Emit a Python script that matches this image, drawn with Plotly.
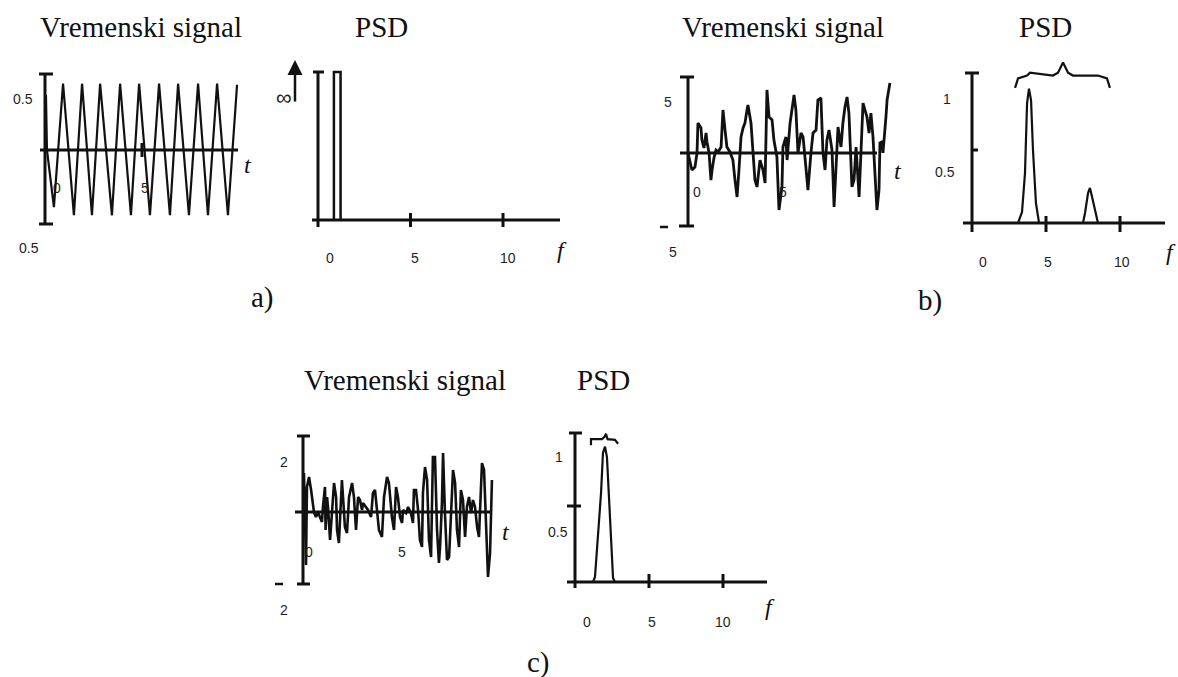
import plotly.graph_objects as go

W, H = 1178, 677

# ---------------- DATA ----------------
# a) pure sinusoid, time signal
a_t = [0.05, 0.10, 0.46, 0.93, 1.49, 1.91, 2.42, 2.84, 3.45, 3.87, 4.43, 4.85, 5.41,
       5.88, 6.44, 6.86, 7.42, 7.89, 8.40, 8.87, 9.43, 9.90]
a_v = [0.54, 0.0, -0.56, 0.65, -0.64, 0.65, -0.64, 0.65, -0.64, 0.65, -0.64, 0.65, -0.64,
       0.65, -0.64, 0.65, -0.64, 0.65, -0.64, 0.65, -0.64, 0.64]
# a) PSD (delta at f = 1, drawn with relative height 1)
a_psd_f = [0.86, 0.86, 1.22, 1.22]
a_psd_v = [0.0, 1.0, 1.0, 0.0]

# b) two-component signal
b_t = [0, 0.21, 0.37, 0.48, 0.53, 0.69, 0.74, 0.85, 0.96, 1.01, 1.12, 1.22, 1.28, 1.38, 1.49,
       1.60, 1.76, 1.86, 1.97, 2.07, 2.23, 2.39, 2.50, 2.61, 2.71, 2.82, 2.93, 3.03, 3.14, 3.19,
       3.35, 3.46, 3.56, 3.67, 3.83, 3.99, 4.10, 4.20, 4.31, 4.47, 4.57, 4.73, 4.84, 5.00, 5.05,
       5.21, 5.27, 5.43, 5.59, 5.64, 5.74, 5.85, 6.01, 6.12, 6.22, 6.33, 6.38, 6.54, 6.65, 6.81,
       6.91, 7.07, 7.18, 7.29, 7.39, 7.50, 7.66, 7.77, 7.87, 7.98, 8.14, 8.24, 8.35, 8.46, 8.56,
       8.72, 8.83, 8.94, 9.10, 9.20, 9.31, 9.41, 9.52, 9.63, 9.73, 9.84, 9.95, 10.05, 10.16,
       10.21, 10.32, 10.37, 10.53, 10.59, 10.74]
b_v = [0, -1.67, -1.37, 0, 2.94, 2.45, 1.27, 0.49, 1.96, 1.08, 0, -2.65, -1.67, -0.49, 0.29,
       0.10, 0.59, 4.22, 2.25, 0.59, 0.10, -0.69, -2.65, -4.31, -1.67, 1.57, 2.45, 2.94, 4.22, 4.71,
       2.94, -0.39, -2.65, -3.33, -0.69, -1.67, -2.94, 6.18, 3.53, 3.24, 1.27, -0.39, -5.59, -3.33, 0.59,
       1.57, -0.69, 2.94, 4.90, 5.69, 4.22, 0, 1.96, 1.57, -0.39, -2.65, -3.63, 0, 1.96, 2.25,
       5.20, 5.39, 0, -1.67, 1.27, 2.25, 0.29, -5.29, -1.96, 2.55, 0.59, 2.94, 4.51, 5.49, 3.92,
       -3.33, -2.65, 0.59, -4.31, 0, 4.90, 4.22, 3.53, 1.96, 3.92, 1.57, -1.67, -5.59, -3.63,
       0.98, 1.08, 0, 3.53, 5.20, 6.86]
b_psd_f = [0.0, 3.11, 3.38, 3.58, 3.72, 3.85, 3.99, 4.12, 4.32, 4.53,
           7.50, 7.64, 7.84, 7.97, 8.11, 8.31, 8.51, 12.5]
b_psd_v = [0.0, 0.0, 0.075, 0.34, 0.82, 0.92, 0.84, 0.50, 0.137, 0.0,
           0.0, 0.07, 0.205, 0.24, 0.18, 0.09, 0.0, 0.0]
b_brace_f = [2.91, 3.11, 3.72, 3.92, 5.47, 5.81, 6.15, 6.49, 6.82, 8.51, 9.12, 9.32]
b_brace_v = [0.925, 0.99, 1.01, 1.03, 1.01, 1.03, 1.10, 1.03, 1.01, 1.01, 0.99, 0.925]

# c) narrow-band noise signal
c_t = [0.05, 0.16, 0.21, 0.32, 0.43, 0.53, 0.59, 0.69, 0.80, 0.90, 1.01, 1.06, 1.17, 1.20, 1.28,
       1.33, 1.44, 1.54, 1.65, 1.76, 1.81, 1.91, 2.07, 2.13, 2.23, 2.34, 2.45, 2.61, 2.71, 2.82,
       2.93, 3.03, 3.14, 3.19, 3.35, 3.46, 3.62, 3.72, 3.83, 3.94, 4.04, 4.20, 4.31, 4.47, 4.57,
       4.73, 4.84, 4.95, 5.05, 5.16, 5.27, 5.32, 5.48, 5.59, 5.74, 5.85, 5.90, 6.01, 6.12, 6.22,
       6.33, 6.38, 6.49, 6.60, 6.70, 6.81, 6.91, 7.02, 7.13, 7.23, 7.29, 7.39, 7.45, 7.55, 7.66,
       7.77, 7.87, 7.98, 8.09, 8.19, 8.30, 8.40, 8.51, 8.62, 8.72, 8.83, 8.94, 9.04, 9.15, 9.26,
       9.36, 9.52, 9.63, 9.73, 9.84, 9.95, 10.05]
c_v = [1.56, -2.12, 1.0, 1.4, 0.88, 0.4, -0.04, -0.2, 0, -0.2, -0.4, 0.2, 1.0, -0.72, 0.6,
       0.2, -1.12, -0.04, 1.16, 0.6, -0.72, -1.24, 1.28, 0.6, -0.6, -0.84, 0.6, 1.16, 0.6, -0.72,
       0.6, 0.48, 0.08, 0.36, 0.2, 0.08, -0.2, 0.76, 0.88, -0.04, -0.72, -1.0, 0.6, 1.4, 1.16,
       -0.2, -0.72, 1.0, 0.6, -0.2, -0.44, 0.08, -0.04, 0.2, -0.04, -0.44, 0.88, 0.88, 0.08, -1.12,
       -1.4, 0.76, 1.8, 1.28, -1.12, -1.8, 2.2, 2.2, -0.72, -2.04, -1.4, 0.36, 2.36, -0.04, -1.92,
       -1.8, -0.04, 1.68, 1.16, -0.72, -1.4, 0.88, 0.48, -1.0, 0.2, 0.6, -0.04, 0.48, 0.2, -0.6,
       -1.0, 1.96, 1.68, -0.44, -2.6, -1.64, 1.28]
c_psd_f = [0.0, 1.22, 1.35, 1.55, 1.76, 1.89, 2.03, 2.16, 2.30, 2.43, 2.57, 2.70, 12.5]
c_psd_v = [0.0, 0.0, 0.033, 0.276, 0.586, 0.85, 0.89, 0.82, 0.56, 0.257, 0.026, 0.0, 0.0]
c_brace_f = [1.08, 1.08, 1.82, 2.00, 2.09, 2.20, 2.70, 2.91]
c_brace_v = [0.90, 0.94, 0.94, 0.955, 0.975, 0.94, 0.935, 0.91]

# tick labels
psd_ticks = ["0", "5", "10"]

# ---------------- LAYOUT HELPERS ----------------
# each panel: pixel of zero, pixels per unit, and pixel box of its subplot
panels = [
    dict(x0=45, sx=19.4, y0=150, sy=102, box=(5, 268, 50, 278)),      # a time
    dict(x0=318, sx=18.5, y0=220, sy=148, box=(272, 595, 45, 285)),   # a psd
    dict(x0=688, sx=18.8, y0=153, sy=10.2, box=(645, 918, 55, 275)),  # b time
    dict(x0=972, sx=14.8, y0=223, sy=146, box=(925, 1178, 45, 285)),  # b psd
    dict(x0=303, sx=18.8, y0=512, sy=25, box=(262, 535, 420, 630)),   # c time
    dict(x0=575, sx=14.8, y0=582, sy=152, box=(540, 800, 420, 640)),  # c psd
]

fig = go.Figure()
shapes = []
annotations = []
INK = "#111111"
LBL = "#1e1e1e"
TICK_SIZE = 14


def ax_names(i):
    s = "" if i == 0 else str(i + 1)
    return "x" + s, "y" + s


def X(i, px):
    p = panels[i]
    return (px - p["x0"]) / p["sx"]


def Y(i, py):
    p = panels[i]
    return (p["y0"] - py) / p["sy"]


def seg(i, xa, ya, xb, yb, w=3):
    xr, yr = ax_names(i)
    shapes.append(dict(type="line", xref=xr, yref=yr, x0=xa, y0=ya, x1=xb, y1=yb,
                       line=dict(color=INK, width=w)))


def tick_label(i, text, xv, yv, dx, dy, size=TICK_SIZE):
    xr, yr = ax_names(i)
    annotations.append(dict(text=text, x=xv, y=yv, xref=xr, yref=yr, showarrow=False,
                            xshift=dx, yshift=dy, font=dict(family="Liberation Sans", size=size, color=LBL)))


def ptext(text, px, py, size=29, italic=False, family="Liberation Serif"):
    t = "<i>%s</i>" % text if italic else text
    annotations.append(dict(text=t, x=px / W, y=1 - py / H, xref="paper", yref="paper",
                            showarrow=False, xanchor="center", yanchor="middle",
                            font=dict(family=family, size=size, color=INK)))


def add_line(i, xs, ys, w):
    xr, yr = ax_names(i)
    fig.add_trace(go.Scatter(x=xs, y=ys, mode="lines", xaxis=xr, yaxis=yr,
                             line=dict(color=INK, width=w), showlegend=False, hoverinfo="skip"))


# ---------------- TRACES ----------------
add_line(0, a_t, a_v, 2.2)
add_line(1, a_psd_f, a_psd_v, 2.5)
add_line(2, b_t, b_v, 2.8)
add_line(3, b_psd_f, b_psd_v, 2.2)
add_line(3, b_brace_f, b_brace_v, 2.2)
add_line(4, c_t, c_v, 2.6)
add_line(5, c_psd_f, c_psd_v, 2.2)
add_line(5, c_brace_f, c_brace_v, 2.2)

# ---------------- AXES (drawn) ----------------
# a time
seg(0, X(0, 40), 0, X(0, 238), 0)
seg(0, 0, Y(0, 74), 0, Y(0, 224))
seg(0, X(0, 39), Y(0, 74), X(0, 53), Y(0, 74))
seg(0, X(0, 39), Y(0, 224), X(0, 53), Y(0, 224))
seg(0, 5, Y(0, 143), 5, Y(0, 157))
tick_label(0, "0.5", 0, 0.5, -22, 0)
tick_label(0, "0.5", 0, -0.5, -16, -47)
tick_label(0, "0", 0, 0, 12, -38)
tick_label(0, "5", 5, 0, 3, -38)

# a psd
seg(1, X(1, 312), 0, X(1, 560), 0)
seg(1, 0, Y(1, 72), 0, Y(1, 227))
seg(1, X(1, 313), Y(1, 72), X(1, 324), Y(1, 72))
for fv in (5, 10):
    seg(1, fv, Y(1, 213), fv, Y(1, 227))
annotations.append(dict(x=X(1, 295), y=Y(1, 60), ax=X(1, 295), ay=Y(1, 103), xref="x2", yref="y2",
                        axref="x2", ayref="y2", showarrow=True, arrowhead=2, arrowsize=1.2,
                        arrowwidth=2.5, arrowcolor=INK, text=""))
tick_label(1, "\u221e", X(1, 284), Y(1, 97), 0, 0, size=22)
tick_label(1, psd_ticks[0], 0, 0, 12, -38)
tick_label(1, psd_ticks[1], 5, 0, 4, -38)
tick_label(1, psd_ticks[2], 10, 0, 5, -38)

# b time
seg(2, X(2, 680), 0, X(2, 877), 0)
seg(2, 0, Y(2, 77), 0, Y(2, 226))
seg(2, X(2, 680), Y(2, 77), X(2, 694), Y(2, 77))
seg(2, X(2, 679), Y(2, 226), X(2, 694), Y(2, 226))
seg(2, X(2, 660), Y(2, 227), X(2, 668), Y(2, 227), w=2.5)
tick_label(2, "5", 0, 5, -20, 0)
tick_label(2, "5", 0, -5, -15, -48)
tick_label(2, "0", 0, 0, 9, -39)
tick_label(2, "5", 5, 0, 1, -39)

# b psd
seg(3, X(3, 963), 0, X(3, 1165), 0)
seg(3, 0, Y(3, 73), 0, Y(3, 232))
seg(3, X(3, 965), Y(3, 73), X(3, 979), Y(3, 73))
seg(3, 0, 0.5, X(3, 978), 0.5)
for fv in (5, 10):
    seg(3, fv, Y(3, 216), fv, Y(3, 232))
tick_label(3, "1", 0, 1, -25, -22)
tick_label(3, "0.5", 0, 0.5, -27, -22)
tick_label(3, psd_ticks[0], 0, 0, 11, -39)
tick_label(3, psd_ticks[1], 5, 0, 2, -39)
tick_label(3, psd_ticks[2], 10, 0, 2, -39)

# c time
seg(4, X(4, 295), 0, X(4, 492), 0)
seg(4, 0, Y(4, 436), 0, Y(4, 584))
seg(4, X(4, 297), Y(4, 436), X(4, 310), Y(4, 436))
seg(4, X(4, 297), Y(4, 584), X(4, 310), Y(4, 584))
seg(4, X(4, 275), Y(4, 584), X(4, 283), Y(4, 584), w=2.5)
tick_label(4, "2", 0, 2, -19, 0)
tick_label(4, "2", 0, -2, -19, -48)
tick_label(4, "0", 0, 0, 6, -40)
tick_label(4, "5", 5, 0, 5, -40)

# c psd
seg(5, X(5, 567), 0, X(5, 767), 0)
seg(5, 0, Y(5, 433), 0, Y(5, 588))
seg(5, X(5, 569), Y(5, 433), X(5, 582), Y(5, 433))
seg(5, X(5, 567), 0.5, X(5, 581), 0.5)
for fv in (5, 10):
    seg(5, fv, Y(5, 574), fv, Y(5, 588))
tick_label(5, "1", 0, 1, -16, -27)
tick_label(5, "0.5", 0, 0.5, -17, -26)
tick_label(5, psd_ticks[0], 0, 0, 12, -40)
tick_label(5, psd_ticks[1], 5, 0, 3, -40)
tick_label(5, psd_ticks[2], 10, 0, 0, -40)

# ---------------- TEXT ----------------
ptext("Vremenski signal", 141, 27)
ptext("PSD", 381, 27)
ptext("Vremenski signal", 783, 27)
ptext("PSD", 1045, 27)
ptext("Vremenski signal", 405, 380)
ptext("PSD", 603, 380)
ptext("a)", 262, 297)
ptext("b)", 930, 300)
ptext("c)", 538, 662)
ptext("t", 248, 165, size=24, italic=True)
ptext("t", 898, 171, size=24, italic=True)
ptext("t", 506, 532, size=24, italic=True)
ptext("f", 562, 250, size=24, italic=True)
ptext("f", 1171, 252, size=24, italic=True)
ptext("f", 770, 607, size=24, italic=True)

# ---------------- AXIS SETUP ----------------
layout_axes = {}
for i, p in enumerate(panels):
    bx0, bx1, by0, by1 = p["box"]
    xr, yr = ax_names(i)
    xk = "xaxis" + xr[1:]
    yk = "yaxis" + yr[1:]
    layout_axes[xk] = dict(domain=[bx0 / W, bx1 / W], range=[X(i, bx0), X(i, bx1)],
                           visible=False, anchor=yr, fixedrange=True)
    layout_axes[yk] = dict(domain=[1 - by1 / H, 1 - by0 / H], range=[Y(i, by1), Y(i, by0)],
                           visible=False, anchor=xr, fixedrange=True)

fig.update_layout(width=W, height=H, margin=dict(l=0, r=0, t=0, b=0), autosize=False,
                  paper_bgcolor="white", plot_bgcolor="rgba(0,0,0,0)",
                  shapes=shapes, annotations=annotations, showlegend=False, **layout_axes)

fig.write_html("out.html", config={"displayModeBar": False},
               post_script="document.body.style.margin='0px';")
